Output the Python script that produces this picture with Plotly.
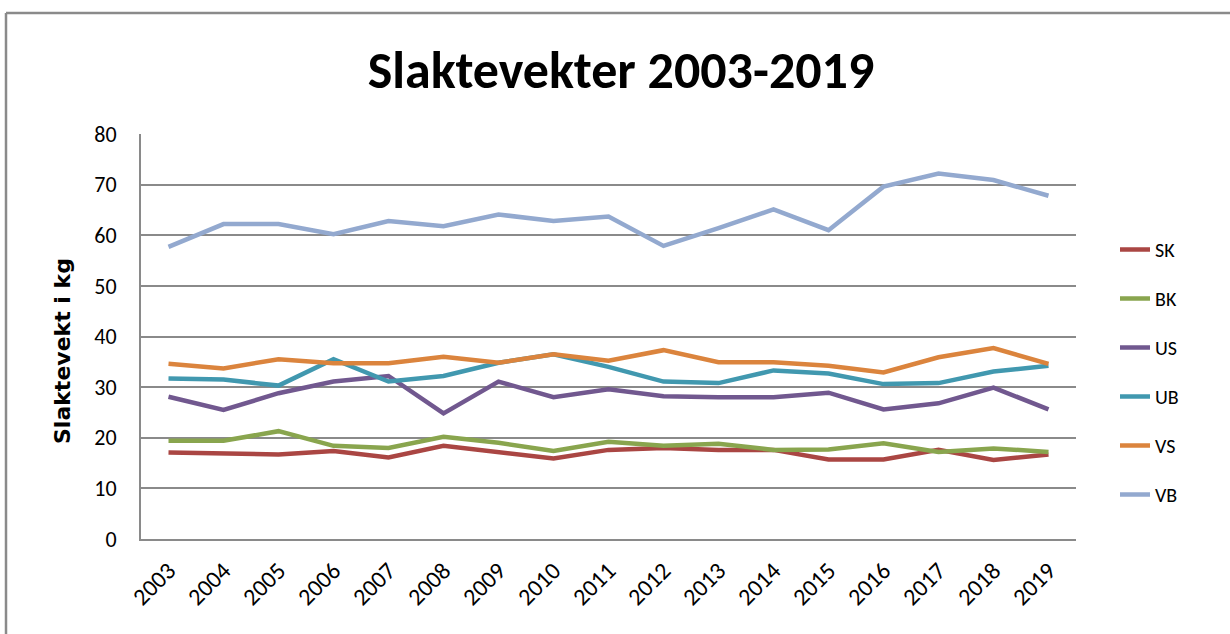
import plotly.graph_objects as go

years = [str(y) for y in range(2003, 2020)]

SK = [17.1, 16.9, 16.7, 17.4, 16.1, 18.4, 17.2, 15.9, 17.6, 18.0, 17.6, 17.6, 15.7, 15.7, 17.6, 15.6, 16.7]
BK = [19.4, 19.4, 21.3, 18.4, 18.0, 20.2, 19.0, 17.4, 19.2, 18.4, 18.8, 17.6, 17.7, 18.9, 17.2, 17.9, 17.2]
US = [28.1, 25.5, 28.8, 31.1, 32.2, 24.8, 31.1, 28.0, 29.6, 28.2, 28.0, 28.0, 28.9, 25.6, 26.8, 29.9, 25.6]
UB = [31.7, 31.5, 30.3, 35.5, 31.1, 32.2, 34.8, 36.5, 34.0, 31.1, 30.8, 33.3, 32.7, 30.6, 30.8, 33.1, 34.2]
VS = [34.6, 33.7, 35.5, 34.7, 34.7, 36.0, 34.8, 36.5, 35.2, 37.3, 34.9, 34.9, 34.2, 32.9, 35.9, 37.7, 34.6]
VB = [57.7, 62.2, 62.2, 60.2, 62.8, 61.8, 64.1, 62.8, 63.7, 57.9, 61.4, 65.1, 61.0, 69.6, 72.2, 70.9, 67.8]

series_names = ["SK", "BK", "US", "UB", "VS", "VB"]
series_values = [SK, BK, US, UB, VS, VB]
colors = ["#AA4643", "#89A54E", "#71588F", "#4198AF", "#DB843D", "#93A9CF"]

FONT = "Carlito, Lato, 'Open Sans', sans-serif"

L, T, R, B = 141, 134, 1076, 539
W_PLOT, H_PLOT = R - L, B - T

fig = go.Figure()
for name, vals, col in zip(series_names, series_values, colors):
    fig.add_trace(go.Scatter(
        x=years, y=vals, name=name, mode="lines",
        line=dict(color=col, width=4.5),
        legendgroup=name,
    ))

fig.update_layout(
    width=1230, height=634,
    margin=dict(l=L, r=1230 - R, t=T, b=634 - B),
    paper_bgcolor="white", plot_bgcolor="white",
    font=dict(family=FONT, color="#000000"),
    title=dict(text="<b>Slaktevekter 2003-2019</b>", x=(621) / 1230, xanchor="center",
               y=1 - 70 / 634, yanchor="middle", yref="container",
               font=dict(size=52, family=FONT, color="#000000")),
    showlegend=True,
    legend=dict(x=(1115 - L) / W_PLOT, xanchor="left", y=(B - 230) / H_PLOT, yanchor="top",
                font=dict(size=20, family=FONT, color="#000000"),
                tracegroupgap=20, bgcolor="rgba(0,0,0,0)", itemwidth=30),
    xaxis=dict(type="category", range=[-0.5, 16.5], showgrid=False, showline=True,
               linecolor="#8A8A8A", linewidth=2, ticks="", tickangle=-45,
               ticklabelstandoff=6,
               tickfont=dict(size=24, family=FONT, color="#000000")),
    yaxis=dict(range=[0, 80], dtick=10, showgrid=True, gridcolor="#8A8A8A", gridwidth=2,
               showline=True, linecolor="#8A8A8A", linewidth=2, ticks="", zeroline=False,
               ticklabelstandoff=18,
               tickfont=dict(size=22, family=FONT, color="#000000")),
)

fig.add_annotation(text="<b>Slaktevekt i kg</b>", xref="paper", yref="paper",
                   x=(62 - L) / W_PLOT, y=(B - 351) / H_PLOT, textangle=-90,
                   xanchor="center", yanchor="middle", showarrow=False,
                   font=dict(size=22, family="DejaVu Sans", color="#000000"))

# chart area border (left and top visible)
fig.add_shape(type="line", xref="paper", yref="paper",
              x0=(6 - L) / W_PLOT, x1=1.3, y0=(B - 13) / H_PLOT, y1=(B - 13) / H_PLOT,
              line=dict(color="#8A8A8A", width=2.5))
fig.add_shape(type="line", xref="paper", yref="paper",
              x0=(6 - L) / W_PLOT, x1=(6 - L) / W_PLOT, y0=-0.5, y1=(B - 13) / H_PLOT,
              line=dict(color="#8A8A8A", width=2.5))

fig.write_html("out.html", config={"displayModeBar": False},
               post_script="document.body.style.margin='0';document.body.style.overflow='hidden';")
